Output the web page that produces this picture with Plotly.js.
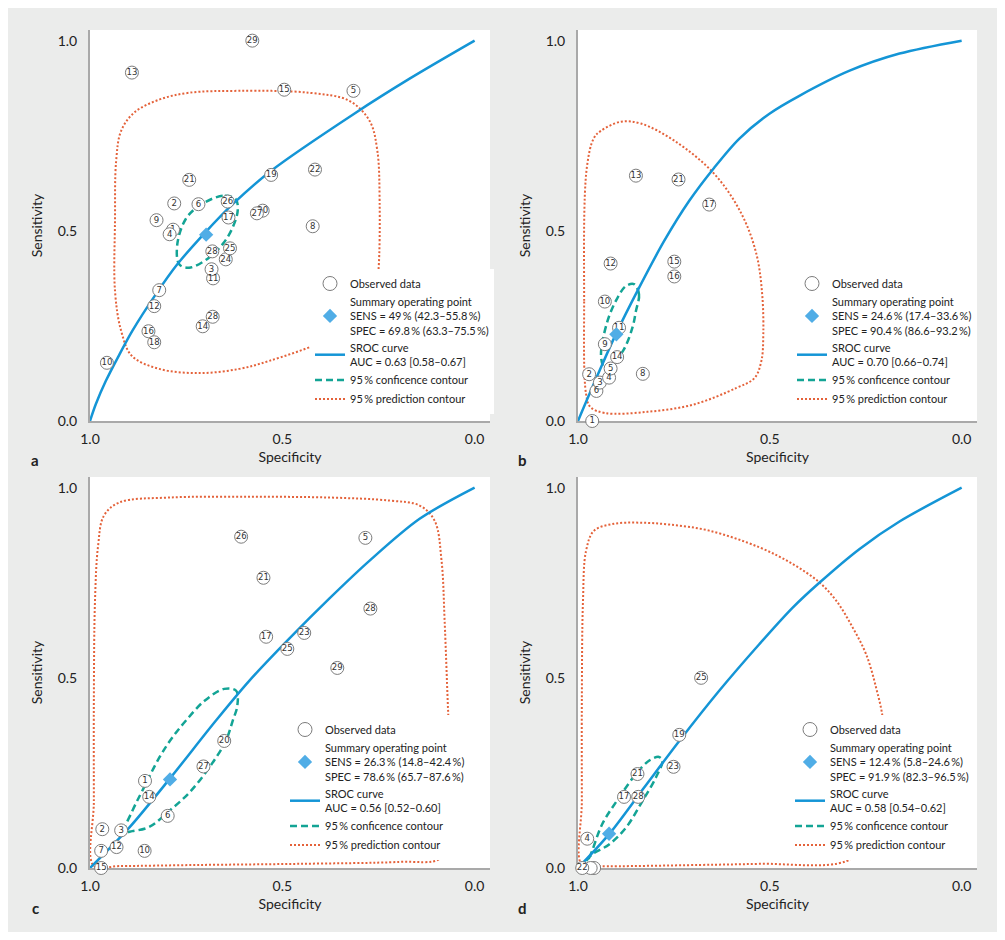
<!DOCTYPE html>
<html><head><meta charset="utf-8">
<script src="https://cdn.plot.ly/plotly-3.0.1.min.js"></script>
<style>html,body{margin:0;padding:0;background:#fff;}#chart{position:absolute;left:8px;top:8px;width:989px;height:924px;}</style>
</head><body><div id="chart"></div>
<script>
// ---------- Panel a ----------
const aSpec = [0.578,0.891,0.495,0.315,0.529,0.415,0.742,0.781,0.718,0.642,0.640,0.566,0.827,0.421,0.793,0.682,0.647,0.636,0.680,0.684,0.820,0.833,0.681,0.707,0.848,0.833,0.956];
const aSens = [1.0,0.916,0.871,0.868,0.647,0.661,0.634,0.572,0.570,0.577,0.535,0.546,0.528,0.512,0.491,0.446,0.425,0.454,0.375,0.399,0.344,0.302,0.274,0.249,0.236,0.207,0.153];
const aLab  = ['29','13','15','5','19','22','21','2','6','26','17','27','9','8','4','28','24','25','11','3','7','12','28','14','16','18','10'];
const aHidSpec = [0.551,0.784], aHidSens = [0.553,0.503], aHidLab = ['20','1'];
const aSumSpec = [0.698], aSumSens = [0.49];
const aSrocSpec = [1,0.985,0.959,0.924,0.890,0.829,0.773,0.700,0.629,0.529,0.313,0.169,0];
const aSrocSens = [0,0.044,0.105,0.174,0.237,0.333,0.412,0.496,0.570,0.658,0.808,0.900,1];
const aConfSpec = [0.621,0.655,0.716,0.751,0.773,0.768,0.742,0.695,0.655,0.629,0.616,0.621];
const aConfSens = [0.583,0.592,0.566,0.531,0.465,0.412,0.403,0.426,0.465,0.509,0.553,0.583];
const aPredSpec = [0.250,0.247,0.253,0.273,0.326,0.430,0.612,0.742,0.820,0.885,0.919,0.932,0.935,0.935,0.919,0.891,0.820,0.716,0.612,0.534,0.404,0.313,0.260,0.250];
const aPredSens = [0.395,0.579,0.711,0.789,0.842,0.863,0.868,0.863,0.845,0.811,0.763,0.684,0.526,0.342,0.237,0.171,0.137,0.126,0.137,0.158,0.205,0.258,0.316,0.395];
const aSumText = 'Summary operating point<br>SENS = 49\u2009% (42.3–55.8\u2009%)<br>SPEC = 69.8\u2009% (63.3–75.5\u2009%)';
const aAucText = 'SROC curve<br>AUC = 0.63 [0.58–0.67]';

// ---------- Panel b ----------
const bSpec = [0.963,0.952,0.943,0.971,0.919,0.915,0.898,0.930,0.893,0.930,0.915,0.749,0.749,0.849,0.738,0.658,0.831];
const bSens = [0.0,0.079,0.101,0.123,0.114,0.138,0.168,0.202,0.245,0.314,0.414,0.380,0.419,0.645,0.635,0.569,0.124];
const bLab  = ['1','6','3','2','4','5','14','9','11','10','12','16','15','13','21','17','8'];
const bHidSpec = [], bHidSens = [], bHidLab = [];
const bSumSpec = [0.900], bSumSens = [0.228];
const bSrocSpec = [1,0.950,0.901,0.841,0.775,0.710,0.645,0.580,0.501,0.423,0.292,0.162,0];
const bSrocSens = [0,0.118,0.229,0.350,0.474,0.579,0.666,0.742,0.808,0.855,0.921,0.966,1];
const bConfSpec = [0.854,0.841,0.849,0.858,0.880,0.906,0.930,0.940,0.923,0.897,0.875,0.854];
const bConfSens = [0.360,0.333,0.289,0.246,0.189,0.155,0.139,0.171,0.263,0.324,0.355,0.360];
const bPredSpec = [0.979,0.984,0.977,0.958,0.940,0.888,0.836,0.749,0.645,0.574,0.535,0.520,0.517,0.522,0.540,0.587,0.700,0.820,0.930,0.968,0.979];
const bPredSens = [0.071,0.316,0.666,0.745,0.763,0.787,0.782,0.737,0.650,0.545,0.439,0.334,0.229,0.158,0.113,0.087,0.043,0.024,0.021,0.037,0.071];
const bSumText = 'Summary operating point<br>SENS = 24.6\u2009% (17.4–33.6\u2009%)<br>SPEC = 90.4\u2009% (86.6–93.2\u2009%)';
const bAucText = 'SROC curve<br>AUC = 0.70 [0.66–0.74]';

// ---------- Panel c ----------
const cSpec = [0.607,0.284,0.549,0.271,0.542,0.443,0.487,0.357,0.651,0.705,0.857,0.846,0.798,0.968,0.919,0.931,0.971,0.858,0.971];
const cSens = [0.871,0.868,0.763,0.682,0.608,0.618,0.576,0.526,0.334,0.267,0.229,0.187,0.137,0.102,0.099,0.055,0.045,0.045,0.0];
const cLab  = ['26','5','21','28','17','23','25','29','20','27','1','14','6','2','3','12','7','10','15'];
const cHidSpec = [], cHidSens = [], cHidLab = [];
const cSumSpec = [0.792], cSumSens = [0.233];
const cSrocSpec = [1,0.898,0.794,0.673,0.586,0.482,0.378,0.273,0.143,0];
const cSrocSens = [0,0.106,0.233,0.387,0.492,0.603,0.708,0.808,0.918,1];
const cConfSpec = [0.911,0.890,0.864,0.820,0.786,0.751,0.703,0.651,0.620,0.617,0.629,0.647,0.690,0.742,0.794,0.846,0.890,0.911];
const cConfSens = [0.095,0.150,0.203,0.290,0.343,0.387,0.439,0.471,0.466,0.426,0.387,0.334,0.264,0.198,0.150,0.108,0.097,0.095];
const cPredSpec = [0.990,0.990,0.990,0.987,0.979,0.964,0.924,0.794,0.586,0.378,0.221,0.143,0.104,0.086,0.078,0.070,0.068,0.065,0.073,0.091,0.195,0.456,0.716,0.924,0.990];
const cPredSens = [0.005,0.176,0.439,0.703,0.847,0.926,0.961,0.974,0.976,0.974,0.966,0.953,0.913,0.808,0.650,0.439,0.387,0.229,0.071,0.024,0.016,0.011,0.008,0.005,0.005];
const cSumText = 'Summary operating point<br>SENS = 26.3\u2009% (14.8–42.4\u2009%)<br>SPEC = 78.6\u2009% (65.7–87.6\u2009%)';
const cAucText = 'SROC curve<br>AUC = 0.56 [0.52–0.60]';

// ---------- Panel d ----------
const dSpec = [0.989,0.976,0.880,0.843,0.845,0.751,0.736,0.679];
const dSens = [0.0,0.077,0.187,0.187,0.247,0.266,0.350,0.500];
const dLab  = ['22','4','17','28','21','23','19','25'];
const dHidSpec = [0.958,0.967], dHidSens = [0.0,0.0], dHidLab = ['',''];
const dSumSpec = [0.919], dSumSens = [0.090];
const dSrocSpec = [1,0.919,0.828,0.736,0.632,0.527,0.441,0.371,0.266,0.162,0];
const dSrocSens = [0,0.089,0.211,0.334,0.466,0.589,0.684,0.750,0.839,0.911,1];
const dConfSpec = [0.979,0.971,0.937,0.893,0.849,0.815,0.789,0.780,0.797,0.832,0.875,0.919,0.963,0.979];
const dConfSens = [0.018,0.027,0.115,0.185,0.247,0.282,0.292,0.282,0.238,0.176,0.106,0.062,0.036,0.018];
const dPredSpec = [0.990,0.990,0.990,0.987,0.979,0.958,0.906,0.841,0.762,0.658,0.527,0.440,0.371,0.327,0.284,0.249,0.223,0.205,0.204,0.227,0.301,0.527,0.684,0.945,0.990];
const dPredSens = [0.008,0.176,0.439,0.703,0.834,0.887,0.905,0.908,0.903,0.887,0.843,0.799,0.751,0.703,0.632,0.562,0.474,0.387,0.229,0.084,0.018,0.011,0.008,0.005,0.008];
const dSumText = 'Summary operating point<br>SENS = 12.4\u2009% (5.8–24.6\u2009%)<br>SPEC = 91.9\u2009% (82.3–96.5\u2009%)';
const dAucText = 'SROC curve<br>AUC = 0.58 [0.54–0.62]';

const tickVals = [1, 0.5, 0];
const tickText = ['1.0', '0.5', '0.0'];
const panelLetters = ['a', 'b', 'c', 'd'];

// ---------- styling ----------
const FONT = 'Lato, "Open Sans", sans-serif';
const NUMFONT = '"Liberation Sans Narrow", "DejaVu Sans Condensed", Lato, sans-serif';
const C_SROC = '#1495d6', C_CONF = '#13a495', C_PRED = '#e4623a', C_SUM = '#50ade6', C_CIRC = '#7c7c7c', C_TXT = '#222';

function panel(n, d) {
  const sfx = n === 1 ? '' : String(n);
  const base = {type: 'scatter', xaxis: 'x' + sfx, yaxis: 'y' + sfx, legend: 'legend' + sfx, cliponaxis: false, hoverinfo: 'skip'};
  const circ = {symbol: 'circle', size: 13, color: '#fff', line: {color: C_CIRC, width: 1}};
  const tf = {family: NUMFONT, size: 9.5, color: '#333'};
  return [
    Object.assign({}, base, {mode: 'lines', x: d.predX, y: d.predY, name: '95\u2009% prediction contour', legendrank: 5,
      line: {color: C_PRED, width: 2, dash: '2px,2px', shape: 'spline', smoothing: 1}}),
    Object.assign({}, base, {mode: 'lines', x: d.confX, y: d.confY, name: '95\u2009% conficence contour', legendrank: 4,
      line: {color: C_CONF, width: 2.5, dash: '7px,4px', shape: 'spline', smoothing: 1}}),
    Object.assign({}, base, {mode: 'lines', x: d.srocX, y: d.srocY, name: d.auc, legendrank: 3,
      line: {color: C_SROC, width: 2.5, shape: 'spline', smoothing: 0.9}}),
    Object.assign({}, base, {mode: 'markers+text', x: d.hidX, y: d.hidY, text: d.hidL, textposition: 'middle center',
      textfont: tf, marker: circ, showlegend: false}),
    Object.assign({}, base, {mode: 'markers+text', x: d.ptX, y: d.ptY, text: d.ptL, textposition: 'middle center',
      textfont: tf, marker: circ, showlegend: false}),
    Object.assign({}, base, {mode: 'markers', x: d.sumX, y: d.sumY, name: d.sum, legendrank: 2,
      marker: {symbol: 'diamond', size: 11, color: C_SUM, line: {width: 0}}}),
    Object.assign({}, base, {mode: 'markers', x: [null], y: [null], name: 'Observed data', legendrank: 1,
      marker: {symbol: 'circle', size: 14, color: '#fff', line: {color: C_CIRC, width: 1}}})
  ];
}

const traces = [].concat(
  panel(1, {ptX: aSpec, ptY: aSens, ptL: aLab, hidX: aHidSpec, hidY: aHidSens, hidL: aHidLab, sumX: aSumSpec, sumY: aSumSens,
    srocX: aSrocSpec, srocY: aSrocSens, confX: aConfSpec, confY: aConfSens, predX: aPredSpec, predY: aPredSens, sum: aSumText, auc: aAucText}),
  panel(2, {ptX: bSpec, ptY: bSens, ptL: bLab, hidX: bHidSpec, hidY: bHidSens, hidL: bHidLab, sumX: bSumSpec, sumY: bSumSens,
    srocX: bSrocSpec, srocY: bSrocSens, confX: bConfSpec, confY: bConfSens, predX: bPredSpec, predY: bPredSens, sum: bSumText, auc: bAucText}),
  panel(3, {ptX: cSpec, ptY: cSens, ptL: cLab, hidX: cHidSpec, hidY: cHidSens, hidL: cHidLab, sumX: cSumSpec, sumY: cSumSens,
    srocX: cSrocSpec, srocY: cSrocSens, confX: cConfSpec, confY: cConfSens, predX: cPredSpec, predY: cPredSens, sum: cSumText, auc: cAucText}),
  panel(4, {ptX: dSpec, ptY: dSens, ptL: dLab, hidX: dHidSpec, hidY: dHidSens, hidL: dHidLab, sumX: dSumSpec, sumY: dSumSens,
    srocX: dSrocSpec, srocY: dSrocSens, confX: dConfSpec, confY: dConfSens, predX: dPredSpec, predY: dPredSens, sum: dSumText, auc: dAucText})
);

// geometry (div is 989 x 924)
const W = 989, H = 924;
const colX = [[82 / W, 482 / W], [570 / W, 969 / W]];
const rowY = [[1 - 413 / H, 1 - 22 / H], [1 - 860 / H, 1 - 469 / H]];

function xAxis(col, yid) {
  return {domain: colX[col], anchor: yid, range: [1, -0.04], tickvals: tickVals, ticktext: tickText,
    showgrid: false, zeroline: false, showline: true, linecolor: '#a9a9a9', linewidth: 2, layer: 'below traces',
    ticks: 'outside', ticklen: 4, tickcolor: 'rgba(0,0,0,0)', tickfont: {family: FONT, size: 14, color: C_TXT},
    title: {text: 'Specificity', font: {family: FONT, size: 14, color: C_TXT}, standoff: 6}, fixedrange: true};
}
function yAxis(row, xid) {
  return {domain: rowY[row], anchor: xid, range: [0, 1.028], tickvals: tickVals, ticktext: tickText,
    showgrid: false, zeroline: false, showline: true, linecolor: '#a9a9a9', linewidth: 2, layer: 'below traces',
    ticks: 'outside', ticklen: 8, tickcolor: 'rgba(0,0,0,0)', tickfont: {family: FONT, size: 14, color: C_TXT},
    title: {text: 'Sensitivity', font: {family: FONT, size: 14, color: C_TXT}, standoff: 12}, fixedrange: true};
}
function legend(xpx, ypx) {
  return {x: xpx / W, y: 1 - ypx / H, xanchor: 'left', yanchor: 'top', bgcolor: '#fff', borderwidth: 0,
    font: {family: FONT, size: 11, color: C_TXT}, valign: 'middle', tracegroupgap: 0, itemclick: false, itemdoubleclick: false};
}

const letterPos = [[27, 452], [514, 452], [27, 900], [514, 900]];
const annotations = panelLetters.map((t, i) => ({text: '<b>' + t + '</b>', xref: 'paper', yref: 'paper',
  x: letterPos[i][0] / W, y: 1 - letterPos[i][1] / H, xanchor: 'center', yanchor: 'middle', showarrow: false,
  font: {family: FONT, size: 15, color: C_TXT}}));

const layout = {
  width: W, height: H, margin: {l: 0, r: 0, t: 0, b: 0, pad: 0},
  paper_bgcolor: '#ebeceb', plot_bgcolor: '#ffffff', font: {family: FONT, color: C_TXT},
  showlegend: true,
  xaxis: xAxis(0, 'y'), yaxis: yAxis(0, 'x'),
  xaxis2: xAxis(1, 'y2'), yaxis2: yAxis(0, 'x2'),
  xaxis3: xAxis(0, 'y3'), yaxis3: yAxis(1, 'x3'),
  xaxis4: xAxis(1, 'y4'), yaxis4: yAxis(1, 'x4'),
  legend: legend(302, 261), legend2: legend(784, 261), legend3: legend(277, 707), legend4: legend(782, 707),
  annotations: annotations
};

Plotly.newPlot('chart', traces, layout, {staticPlot: true, displayModeBar: false});
</script></body></html>
